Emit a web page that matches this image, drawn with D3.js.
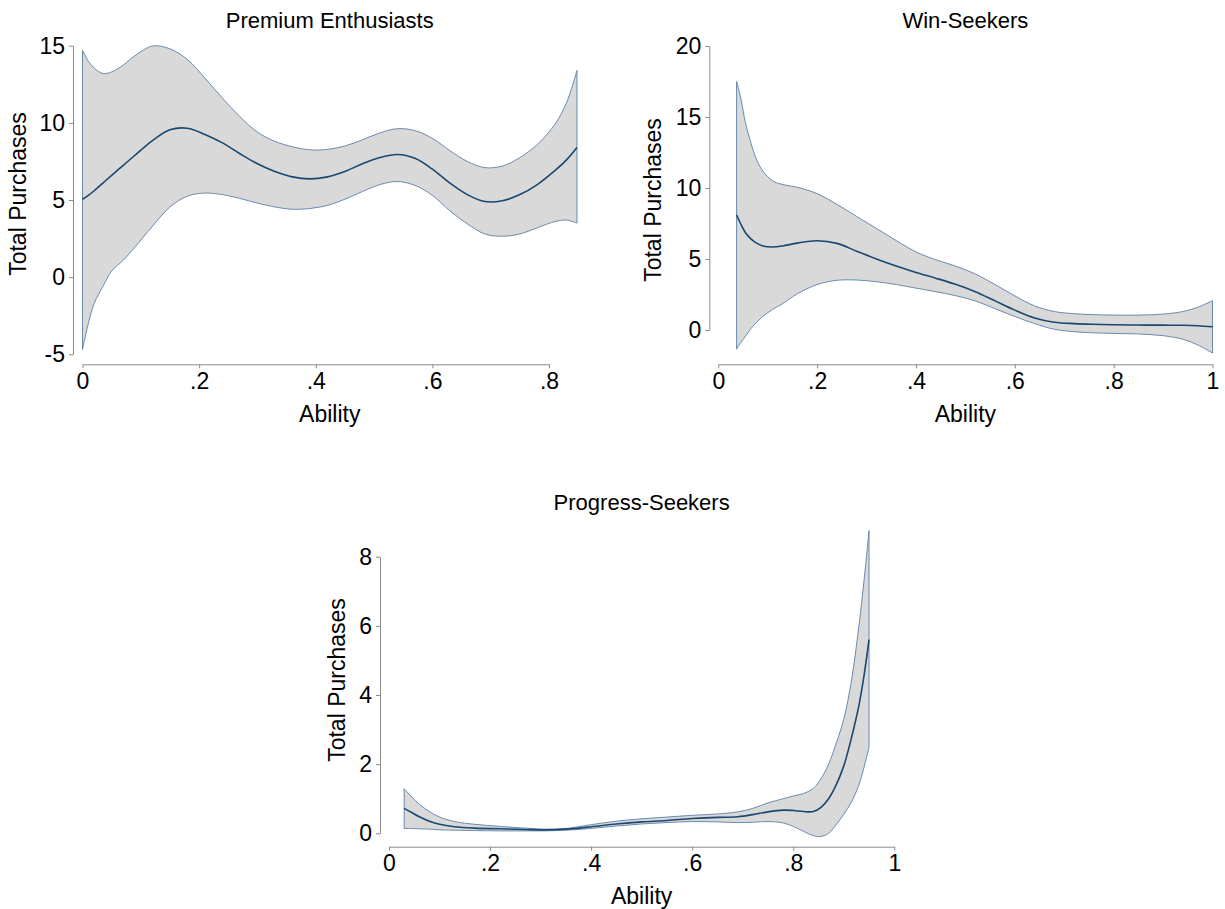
<!DOCTYPE html>
<html>
<head>
<meta charset="utf-8">
<script src="https://cdn.jsdelivr.net/npm/d3@7"></script>
<style>
  html, body { margin: 0; padding: 0; background: #fff; }
  text { font-family: "Liberation Sans", Arial, Helvetica, sans-serif; fill: #000; }
</style>
</head>
<body>
<div id="chart"></div>
<script>
// Premium Enthusiasts
const p1Ability = [0, 0.01, 0.02, 0.035, 0.05, 0.07, 0.09, 0.12, 0.15, 0.18, 0.21, 0.24, 0.27, 0.30, 0.33, 0.36, 0.39, 0.42, 0.45, 0.48, 0.51, 0.54, 0.57, 0.60, 0.63, 0.66, 0.69, 0.72, 0.75, 0.78, 0.81, 0.83, 0.848];
const p1Mean  = [5.05, 5.3, 5.6, 6.1, 6.6, 7.25, 7.9, 8.85, 9.55, 9.65, 9.25, 8.7, 8.0, 7.35, 6.85, 6.5, 6.37, 6.5, 6.85, 7.35, 7.75, 7.95, 7.7, 7.0, 6.1, 5.35, 4.9, 4.95, 5.35, 6.0, 6.9, 7.6, 8.4];
const p1Upper = [14.7, 14.0, 13.55, 13.2, 13.3, 13.75, 14.35, 14.98, 14.8, 14.1, 12.9, 11.6, 10.4, 9.4, 8.8, 8.45, 8.25, 8.28, 8.5, 8.9, 9.35, 9.62, 9.5, 9.0, 8.2, 7.5, 7.1, 7.2, 7.75, 8.6, 9.9, 11.3, 13.4];
const p1Lower = [-4.7, -3.0, -1.7, -0.6, 0.4, 1.1, 1.95, 3.3, 4.55, 5.25, 5.45, 5.35, 5.1, 4.8, 4.55, 4.4, 4.45, 4.65, 5.05, 5.55, 6.0, 6.2, 5.95, 5.3, 4.3, 3.45, 2.8, 2.65, 2.8, 3.2, 3.6, 3.7, 3.5];

// Win-Seekers
const p2Ability = [0.037, 0.045, 0.055, 0.065, 0.075, 0.09, 0.11, 0.13, 0.16, 0.2, 0.24, 0.28, 0.32, 0.36, 0.4, 0.44, 0.48, 0.52, 0.56, 0.6, 0.64, 0.68, 0.72, 0.76, 0.8, 0.85, 0.9, 0.94, 0.97, 1.0];
const p2Mean  = [8.1, 7.5, 6.85, 6.45, 6.17, 5.92, 5.85, 5.92, 6.12, 6.28, 6.1, 5.55, 5.0, 4.5, 4.05, 3.65, 3.22, 2.7, 2.05, 1.4, 0.85, 0.55, 0.45, 0.4, 0.37, 0.35, 0.34, 0.33, 0.3, 0.23];
const p2Upper = [17.5, 16.4, 14.6, 13.3, 12.2, 11.2, 10.5, 10.25, 10.05, 9.6, 8.85, 8.0, 7.15, 6.3, 5.5, 4.95, 4.5, 3.95, 3.2, 2.4, 1.7, 1.3, 1.15, 1.08, 1.05, 1.05, 1.12, 1.3, 1.6, 2.06];
const p2Lower = [-1.35, -0.9, -0.45, 0.05, 0.45, 0.95, 1.45, 1.85, 2.55, 3.2, 3.5, 3.52, 3.4, 3.2, 2.95, 2.7, 2.42, 2.05, 1.5, 0.95, 0.45, 0.05, -0.12, -0.2, -0.24, -0.28, -0.4, -0.65, -1.05, -1.62];

// Progress-Seekers
const p3Ability = [0.03, 0.045, 0.06, 0.08, 0.1, 0.13, 0.17, 0.22, 0.27, 0.31, 0.35, 0.4, 0.45, 0.5, 0.55, 0.6, 0.65, 0.69, 0.72, 0.75, 0.78, 0.8, 0.82, 0.84, 0.855, 0.87, 0.885, 0.9, 0.915, 0.93, 0.94, 0.95];
const p3Mean  = [0.72, 0.6, 0.48, 0.35, 0.26, 0.19, 0.15, 0.13, 0.11, 0.1, 0.12, 0.19, 0.27, 0.33, 0.37, 0.43, 0.46, 0.48, 0.54, 0.62, 0.67, 0.66, 0.63, 0.63, 0.75, 1.0, 1.4, 1.95, 2.75, 3.7, 4.55, 5.6];
const p3Upper = [1.29, 1.05, 0.84, 0.63, 0.47, 0.34, 0.26, 0.2, 0.15, 0.12, 0.14, 0.25, 0.35, 0.42, 0.47, 0.52, 0.56, 0.62, 0.72, 0.88, 1.0, 1.08, 1.15, 1.3, 1.58, 2.0, 2.6, 3.3, 4.4, 6.0, 7.3, 8.75];
const p3Lower = [0.14, 0.14, 0.13, 0.12, 0.1, 0.09, 0.08, 0.07, 0.07, 0.07, 0.09, 0.14, 0.21, 0.27, 0.31, 0.34, 0.33, 0.31, 0.32, 0.34, 0.3, 0.2, 0.06, -0.07, -0.09, 0.0, 0.25, 0.55, 0.9, 1.4, 1.9, 2.49];

// tick values and labels
const p1XTicks = [0, 0.2, 0.4, 0.6, 0.8];
const p1XLabels = ["0", ".2", ".4", ".6", ".8"];
const p1YTicks = [-5, 0, 5, 10, 15];
const p1YLabels = ["-5", "0", "5", "10", "15"];
const p2XTicks = [0, 0.2, 0.4, 0.6, 0.8, 1];
const p2XLabels = ["0", ".2", ".4", ".6", ".8", "1"];
const p2YTicks = [0, 5, 10, 15, 20];
const p2YLabels = ["0", "5", "10", "15", "20"];
const p3XTicks = [0, 0.2, 0.4, 0.6, 0.8, 1];
const p3XLabels = ["0", ".2", ".4", ".6", ".8", "1"];
const p3YTicks = [0, 2, 4, 6, 8];
const p3YLabels = ["0", "2", "4", "6", "8"];

const titles = ["Premium Enthusiasts", "Win-Seekers", "Progress-Seekers"];
const xTitle = "Ability";
const yTitle = "Total Purchases";

const width = 1225, height = 909;
const titleSize = 22, tickSize = 23, labelSize = 23;

const svg = d3.select('#chart').append('svg')
  .attr('width', width)
  .attr('height', height);

function drawPanel(p) {
  const x = d3.scaleLinear().domain(p.xDomain).range(p.xRange);
  const y = d3.scaleLinear().domain(p.yDomain).range(p.yRange);
  const g = svg.append('g');

  const rows = p.ability.map((a, i) => ({ a, m: p.mean[i], hi: p.upper[i], lo: p.lower[i] }));

  // confidence band
  const band = d3.area()
    .x(d => x(d.a))
    .y0(d => y(d.lo))
    .y1(d => y(d.hi))
    .curve(d3.curveCatmullRom);
  g.append('path')
    .datum(rows)
    .attr('d', band)
    .attr('fill', '#d9d9d9')
    .attr('stroke', '#5b80a8')
    .attr('stroke-width', 0.9)
    .attr('stroke-linejoin', 'round');

  // fitted line
  const line = d3.line()
    .x(d => x(d.a))
    .y(d => y(d.m))
    .curve(d3.curveCatmullRom);
  g.append('path')
    .datum(rows)
    .attr('d', line)
    .attr('fill', 'none')
    .attr('stroke', '#1a476f')
    .attr('stroke-width', 1.6);

  // axes
  const yAxis = d3.axisLeft(y)
    .tickValues(p.yTicks)
    .tickFormat((d, i) => p.yLabels[i])
    .tickSize(4).tickSizeOuter(0).tickPadding(4);
  const xAxis = d3.axisBottom(x)
    .tickValues(p.xTicks)
    .tickFormat((d, i) => p.xLabels[i])
    .tickSize(4).tickSizeOuter(0).tickPadding(4);

  const ya = g.append('g').attr('transform', `translate(${p.yAxisX},0)`).call(yAxis);
  const xa = g.append('g').attr('transform', `translate(0,${p.xAxisY})`).call(xAxis);
  [ya, xa].forEach(a => {
    a.select('.domain').attr('stroke', '#8c8c8c').attr('stroke-width', 1);
    a.selectAll('.tick line').attr('stroke', '#8c8c8c');
    a.selectAll('.tick text')
      .style('font-family', '"Liberation Sans", Arial, sans-serif')
      .style('font-size', tickSize + 'px')
      .attr('fill', '#000');
  });

  // titles, centred on the plotted data range
  const cx = (x(p.ability[0]) + x(p.ability[p.ability.length - 1])) / 2;
  const tx = Math.min(p.xRange[0], x(p.ability[0]));
  const tcx = (tx + Math.max(p.xRange[1], x(p.ability[p.ability.length - 1]))) / 2;
  g.append('text')
    .attr('x', tcx).attr('y', p.titleY)
    .attr('text-anchor', 'middle')
    .style('font-size', titleSize + 'px')
    .text(p.title);
  g.append('text')
    .attr('x', tcx).attr('y', p.xTitleY)
    .attr('text-anchor', 'middle')
    .style('font-size', labelSize + 'px')
    .text(xTitle);
  g.append('text')
    .attr('transform', `translate(${p.yTitleX},${p.yTitleCY}) rotate(-90)`)
    .attr('text-anchor', 'middle')
    .style('font-size', labelSize + 'px')
    .text(yTitle);
}

drawPanel({
  title: titles[0], ability: p1Ability, mean: p1Mean, upper: p1Upper, lower: p1Lower,
  xDomain: [0, 0.8], xRange: [82.5, 549], yDomain: [-5, 15], yRange: [354.3, 45.7],
  xTicks: p1XTicks, xLabels: p1XLabels, yTicks: p1YTicks, yLabels: p1YLabels,
  yAxisX: 73, xAxisY: 364.3, titleY: 28, xTitleY: 422, yTitleX: 26, yTitleCY: 194
});
drawPanel({
  title: titles[1], ability: p2Ability, mean: p2Mean, upper: p2Upper, lower: p2Lower,
  xDomain: [0, 1], xRange: [718.3, 1212.5], yDomain: [0, 20], yRange: [330, 46],
  xTicks: p2XTicks, xLabels: p2XLabels, yTicks: p2YTicks, yLabels: p2YLabels,
  yAxisX: 709.3, xAxisY: 364.3, titleY: 28, xTitleY: 422, yTitleX: 661, yTitleCY: 200
});
drawPanel({
  title: titles[2], ability: p3Ability, mean: p3Mean, upper: p3Upper, lower: p3Lower,
  xDomain: [0, 1], xRange: [389, 894.3], yDomain: [0, 8], yRange: [833.3, 556.7],
  xTicks: p3XTicks, xLabels: p3XLabels, yTicks: p3YTicks, yLabels: p3YLabels,
  yAxisX: 380, xAxisY: 846.7, titleY: 510, xTitleY: 904, yTitleX: 345, yTitleCY: 680
});
</script>
</body>
</html>
